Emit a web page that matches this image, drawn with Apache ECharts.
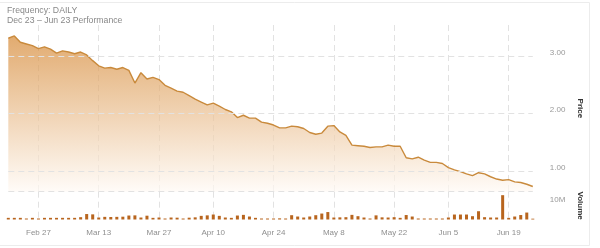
<!DOCTYPE html>
<html>
<head>
<meta charset="utf-8">
<script src="https://cdn.jsdelivr.net/npm/echarts@6/dist/echarts.min.js"></script>
<style>
html,body{margin:0;padding:0;background:#fff;}
#chart{width:600px;height:248px;}
</style>
</head>
<body>
<div id="chart"></div>
<script>
// ---- Data ----
const dates = [
  "Feb 17","Feb 21","Feb 22","Feb 23","Feb 24","Feb 27","Feb 28",
  "Mar 1","Mar 2","Mar 3","Mar 6","Mar 7","Mar 8","Mar 9","Mar 10","Mar 13","Mar 14","Mar 15","Mar 16","Mar 17",
  "Mar 20","Mar 21","Mar 22","Mar 23","Mar 24","Mar 27","Mar 28","Mar 29","Mar 30","Mar 31",
  "Apr 3","Apr 4","Apr 5","Apr 6","Apr 10","Apr 11","Apr 12","Apr 13","Apr 14","Apr 17","Apr 18","Apr 19","Apr 20","Apr 21",
  "Apr 24","Apr 25","Apr 26","Apr 27","Apr 28",
  "May 1","May 2","May 3","May 4","May 5","May 8","May 9","May 10","May 11","May 12","May 15","May 16","May 17","May 18","May 19",
  "May 22","May 23","May 24","May 25","May 26","May 30","May 31",
  "Jun 1","Jun 2","Jun 5","Jun 6","Jun 7","Jun 8","Jun 9","Jun 12","Jun 13","Jun 14","Jun 15","Jun 16","Jun 19","Jun 20","Jun 21","Jun 22","Jun 23"
];
const price = [
  3.31,3.35,3.24,3.21,3.18,3.13,3.16,3.12,3.05,3.09,
  3.07,3.04,3.07,3.02,2.92,2.83,2.79,2.80,2.77,2.80,
  2.75,2.53,2.71,2.60,2.63,2.59,2.49,2.44,2.39,2.37,
  2.31,2.25,2.20,2.15,2.18,2.13,2.07,2.03,1.93,1.97,
  1.92,1.92,1.85,1.83,1.80,1.75,1.75,1.78,1.77,1.74,
  1.67,1.64,1.66,1.78,1.79,1.68,1.62,1.45,1.44,1.43,
  1.41,1.42,1.42,1.45,1.43,1.43,1.23,1.21,1.24,1.19,
  1.15,1.15,1.13,1.06,1.02,0.99,0.95,0.92,0.97,0.95,
  0.90,0.86,0.84,0.85,0.81,0.80,0.77,0.73
];
// volume in millions of shares
const volumeM = [
  1.0,1.0,1.0,0.6,1.0,0.6,1.0,1.0,1.0,1.0,
  1.0,1.0,1.4,3.3,3.1,1.2,1.6,1.5,1.6,1.7,
  2.4,2.5,1.2,2.3,1.0,1.2,0.6,1.2,1.1,0.6,
  1.1,1.3,2.2,2.5,3.0,2.2,1.2,1.0,2.4,2.8,
  1.8,1.0,0.6,0.6,0.6,0.7,0.6,2.6,1.8,1.2,
  1.8,2.6,3.6,4.5,1.2,1.3,1.4,2.8,2.0,1.2,
  0.6,2.5,1.3,1.2,1.4,1.0,2.7,1.8,0.6,0.6,
  0.6,0.6,0.6,1.2,3.0,3.0,3.0,2.0,5.0,1.4,
  1.2,1.2,14.7,1.0,1.8,2.7,4.2,0.5
];
const xTickLabels = ["Feb 27","Mar 13","Mar 27","Apr 10","Apr 24","May 8","May 22","Jun 5","Jun 19"];
const priceTicks = [1, 2, 3];
const volumeTick = 10; // M
const titleText = "Frequency: DAILY";
const subText = "Dec 23 \u2013 Jun 23 Performance";

// ---- Layout ----
const priceMin = 0.64, priceMax = 3.54;
const volMax = 16.8;
const gridL = 8.3, gridR = 67.2;
const gTop1 = 25, gBot1 = 191.7, gBot2 = 219.5;
const dashGrid = {color:'#e2e2e2', width:1, type:[6,4]};
const labelColor = '#999';
const fontFam = '"Liberation Sans", Arial, sans-serif';

const chart = echarts.init(document.getElementById('chart'), null, {renderer:'canvas'});
const isTickLabel = (idx, val) => xTickLabels.indexOf(dates[idx]) >= 0;

const yLabel = {color:labelColor, fontSize:8, margin:17, align:'left', verticalAlign:'bottom', lineHeight:7};

chart.setOption({
  animation:false,
  backgroundColor:'#fff',
  textStyle:{fontFamily:fontFam},
  title:{
    text:titleText, subtext:subText, left:7, top:6, padding:0, itemGap:1,
    textStyle:{fontSize:8.7, fontWeight:'normal', color:'#888', fontFamily:fontFam},
    subtextStyle:{fontSize:8.7, color:'#888', fontFamily:fontFam}
  },
  graphic:[{
    type:'rect', silent:true, z:-1,
    shape:{x:-2, y:2.5, width:591.5, height:243},
    style:{fill:'none', stroke:'#ececec', lineWidth:1}
  }],
  grid:[
    {left:gridL, right:gridR, top:gTop1, height:gBot1-gTop1},
    {left:gridL, right:gridR, top:gBot1, height:gBot2-gBot1}
  ],
  xAxis:[
    {type:'category', gridIndex:0, data:dates, boundaryGap:false,
     axisLine:{show:false}, axisTick:{show:false}, axisLabel:{show:false},
     splitLine:{show:true, interval:isTickLabel, lineStyle:dashGrid}},
    {type:'category', gridIndex:1, data:dates, boundaryGap:false,
     axisLine:{show:false}, axisTick:{show:false},
     axisLabel:{show:true, interval:isTickLabel, color:'#8f8f8f', fontSize:8, margin:9.5, fontFamily:fontFam},
     splitLine:{show:true, interval:isTickLabel, lineStyle:dashGrid}}
  ],
  yAxis:[
    {type:'value', gridIndex:0, position:'right', min:priceMin, max:priceMax, scale:true,
     axisLine:{show:false}, axisTick:{show:false}, splitLine:{show:false},
     name:'Price', nameLocation:'middle', nameRotate:-90, nameGap:42,
     nameTextStyle:{fontSize:8, fontWeight:'bold', color:'#333', fontFamily:fontFam},
     axisLabel:Object.assign({}, yLabel, {
       formatter:v => priceTicks.some(t => Math.abs(t - v) < 1e-6) ? v.toFixed(2) : ''})},
    {type:'value', gridIndex:1, position:'right', min:0, max:volMax, interval:5,
     axisLine:{show:false}, axisTick:{show:false}, splitLine:{show:false},
     name:'Volume', nameLocation:'middle', nameRotate:-90, nameGap:42,
     nameTextStyle:{fontSize:8, fontWeight:'bold', color:'#333', fontFamily:fontFam},
     axisLabel:Object.assign({}, yLabel, {
       formatter:v => Math.abs(v - volumeTick) < 1e-6 ? volumeTick + 'M' : ''})}
  ],
  series:[
    {type:'line', xAxisIndex:0, yAxisIndex:0, data:price, showSymbol:false, smooth:false,
     lineStyle:{color:'#c98a3c', width:1.4},
     areaStyle:{color:new echarts.graphic.LinearGradient(0,0,0,1,[
        {offset:0, color:'rgba(213,135,50,1)'},
        {offset:1, color:'rgba(255,250,245,1)'}
     ])},
     markLine:{silent:true, symbol:'none', label:{show:false}, lineStyle:dashGrid, animation:false,
       data:priceTicks.map(t => ({yAxis:t})).concat([{yAxis:priceMin + 0.004}])},
     z:2},
    {type:'bar', xAxisIndex:1, yAxisIndex:1, data:volumeM, barWidth:3, clip:false,
     itemStyle:{color:'#b8651e'}}
  ]
});
</script>
</body>
</html>
